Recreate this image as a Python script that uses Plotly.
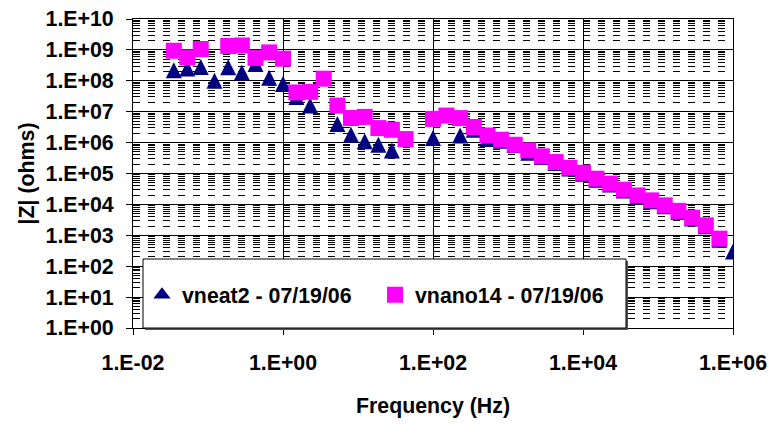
import plotly.graph_objects as go

# ---------------- data ----------------
freq_hz = [0.035, 0.053, 0.080, 0.122, 0.186, 0.283, 0.430, 0.653, 1.0, 1.51,
           2.30, 3.49, 5.31, 8.07, 12.3, 18.7, 28.3, 43.1, 65.5, 100,
           151, 230, 350, 532, 809, 1230, 1862, 2830, 4315, 6560,
           10000, 15100, 23000, 35000, 53300, 81000, 123000, 187000, 285000, 434000,
           659000, 1000000]

vneat2 = [2.2e8, 2.5e8, 2.8e8, 1.0e8, 2.75e8, 1.86e8, 3.5e8, 1.26e8, 7.9e7, 3.0e7,
          1.6e7, None, 4.0e6, 1.8e6, 1.1e6, 8.5e5, 5.5e5, None, None, 1.4e6,
          None, 1.7e6, 2.6e6, 1.3e6, 1.15e6, 8.3e5, 4.7e5, 3.4e5, 2.2e5, 1.44e5,
          9.9e4, 6.3e4, 4.4e4, 2.8e4, 1.8e4, 1.26e4, 8.7e3, 5.8e3, 3.5e3, 1.95e3,
          7.2e2, 3.0e2]

vnano14 = [9.4e8, 5.7e8, 1.07e9, None, 1.34e9, 1.39e9, 5.5e8, 8.3e8, 5.2e8, 4.2e7,
           4.4e7, 1.17e8, 1.58e7, 6.25e6, 6.8e6, 2.95e6, 2.6e6, 1.3e6, None, 5.85e6,
           7.5e6, 6.2e6, 3.2e6, 1.7e6, 1.24e6, 8.5e5, 5.6e5, 3.6e5, 2.35e5, 1.54e5,
           1.06e5, 6.8e4, 4.7e4, 3.0e4, 1.95e4, 1.35e4, 9.3e3, 6.2e3, 3.7e3, 2.1e3,
           7.8e2, None]

series_names = ["vneat2 - 07/19/06", "vnano14 - 07/19/06"]

x_tickvals = [1e-2, 1e0, 1e2, 1e4, 1e6]
x_ticktext = ["1.E-02", "1.E+00", "1.E+02", "1.E+04", "1.E+06"]
y_tickvals = [10.0 ** d for d in range(0, 11)]
y_ticktext = ["1.E+%02d" % d for d in range(0, 11)]
y_minorvals = [m * 10.0 ** d for d in range(0, 10) for m in range(2, 10)]

x_title = "Frequency (Hz)"
y_title = "|Z| (ohms)"

# ---------------- figure ----------------
W, H = 769, 441
L, R, T, B = 133, 36, 19, 113
PW, PH = W - L - R, H - T - B

FONT = "Liberation Sans, Arial, sans-serif"
FS = 21.33

NAVY = "#000080"
MAGENTA = "#FF00FF"

def pxx(p):  # pixel -> paper x
    return (p - L) / PW

def pxy(p):  # pixel -> paper y
    return (T + PH - p) / PH

fig = go.Figure()

fig.add_trace(go.Scatter(
    x=freq_hz, y=vneat2, name=series_names[0], mode="markers",
    marker=dict(symbol="arrow-down", angle=180, standoff=8, size=16,
                color=NAVY, line=dict(width=0)),
    showlegend=False, legendgroup="a",
))
# legend entry for the triangle series
fig.add_trace(go.Scatter(
    x=[None], y=[None], name=series_names[0], mode="markers",
    marker=dict(symbol="triangle-up", size=15, color=NAVY, line=dict(width=0)),
    legendgroup="a",
))
fig.add_trace(go.Scatter(
    x=freq_hz, y=vnano14, name=series_names[1], mode="markers",
    marker=dict(symbol="square", size=16, color=MAGENTA, line=dict(width=0)),
))

axis_font = dict(family=FONT, size=FS, color="black", weight="bold")

fig.update_xaxes(
    type="log", range=[-2, 6],
    tickmode="array", tickvals=x_tickvals, ticktext=x_ticktext,
    ticks="outside", ticklen=6, tickcolor="black", tickwidth=1,
    showline=True, linecolor="black", linewidth=1, mirror=True,
    showgrid=True, gridcolor="black", gridwidth=1,
    zeroline=False, tickfont=axis_font, ticklabelstandoff=9,
    title=dict(text=x_title, font=axis_font, standoff=24),
    automargin=False,
)
fig.update_yaxes(
    type="log", range=[0, 10],
    tickmode="array", tickvals=y_tickvals, ticktext=y_ticktext,
    ticks="outside", ticklen=6, tickcolor="black", tickwidth=1,
    showline=True, linecolor="black", linewidth=1, mirror=True,
    showgrid=True, gridcolor="black", gridwidth=1,
    minor=dict(tickmode="array", tickvals=y_minorvals, showgrid=True,
               gridcolor="black", gridwidth=1, griddash="7px,8px", ticks=""),
    zeroline=False, tickfont=axis_font, ticklabelstandoff=8,
    title=dict(text=y_title, font=axis_font, standoff=5),
    automargin=False,
)

# legend frame (shadow + box)
fig.add_shape(type="rect", xref="paper", yref="paper", layer="above",
              x0=pxx(145), x1=pxx(628), y0=pxy(330), y1=pxy(261),
              fillcolor="#555555", line=dict(width=0))
fig.add_shape(type="rect", xref="paper", yref="paper", layer="above",
              x0=pxx(143), x1=pxx(626), y0=pxy(328), y1=pxy(259),
              fillcolor="white", line=dict(color="black", width=1))

fig.update_layout(
    width=W, height=H,
    margin=dict(l=L, r=R, t=T, b=B, autoexpand=False),
    paper_bgcolor="white", plot_bgcolor="white",
    font=dict(family=FONT, size=FS, color="black"),
    showlegend=True,
    legend=dict(orientation="h", x=pxx(142), xanchor="left",
                y=pxy(295), yanchor="middle",
                bgcolor="rgba(0,0,0,0)", borderwidth=0,
                font=dict(family=FONT, size=FS, color="black", weight="bold"),
                entrywidth=188, entrywidthmode="pixels",
                itemsizing="trace"),
)

# remove the browser's default page margin so the figure sits at the window origin
fig.write_html("out.html", config={"displayModeBar": False},
               post_script="document.body.style.margin='0';")
